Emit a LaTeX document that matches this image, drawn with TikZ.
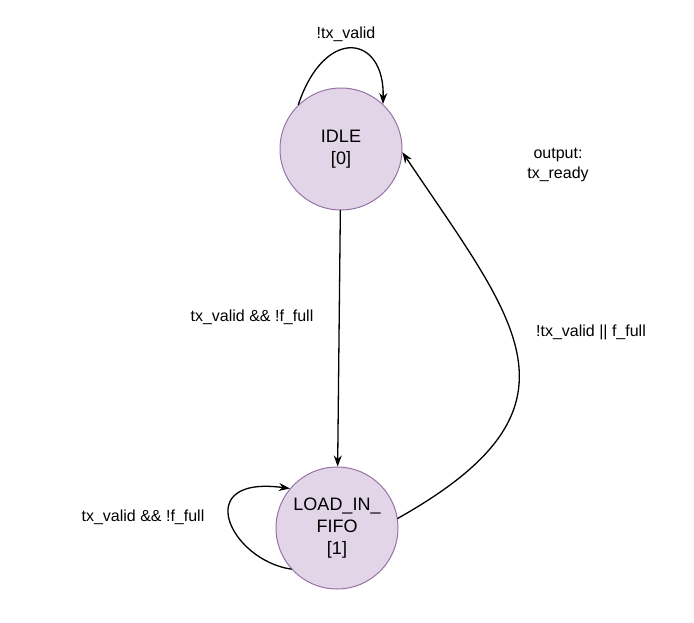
\documentclass[tikz,border=0pt]{standalone}
\usepackage{fontspec}
\setmainfont{Liberation Sans}
\usetikzlibrary{arrows.meta}
\definecolor{statefill}{HTML}{E1D5E7}
\definecolor{stateline}{HTML}{9673A6}
\tikzstyle{every node}=[font=\fontsize{16}{20}\selectfont]
\tikzstyle{every path}=[line width=1.3pt,line cap=round,line join=round]
\tikzstyle{fsmstate}=[circle,draw=stateline,fill=statefill,line width=1pt,minimum size=122pt,inner sep=0pt,align=center,font=\fontsize{18}{22}\selectfont]
\tikzstyle{trans}=[-{Stealth[length=11pt,width=8pt]}]
\begin{document}
\begin{tikzpicture}[x=1pt,y=-1pt]
\useasboundingbox (0,0) rectangle (694,622);

 \node[fsmstate] (idle) at (341,149) {IDLE\\{}[0]};
 \node[fsmstate] (load) at (337,528) {LOAD\_IN\_\\FIFO\\{}[1]};

 \node (lblidle) at (346,34) {!tx\_valid};
 \node (lbldown) at (252,317) {tx\_valid \&\& !f\_full};
 \node[align=center] (lbloutput) at (558,165) {output:\\tx\_ready};
 \node (lblback) at (591,332) {!tx\_valid || f\_full};
 \node (lblload) at (143,517) {tx\_valid \&\& !f\_full};

 \draw[trans] (idle) -- (load);
 \draw[trans] (idle.134) .. controls (325,25) and (385,35) .. (idle.47);
 \draw[trans] (load.222) .. controls (230,560) and (190,475) .. (load.140);
 \draw[trans] (load.9) .. controls (596,407) and (517,323) .. (idle.-3);
\end{tikzpicture}
\end{document}
